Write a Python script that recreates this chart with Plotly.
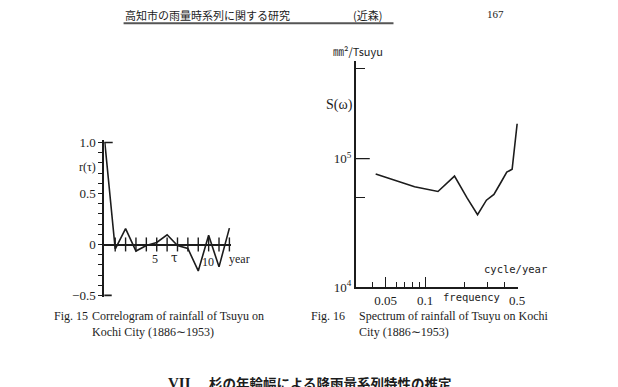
import plotly.graph_objects as go

W, H = 618, 387
def px(x): return x / W
def py(y): return 1 - y / H

# ---- data: Fig.15 correlogram ----
lags = [0, 1, 2, 3, 4, 5, 6, 7, 8, 9, 10, 11, 12]
r_tau = [1.0, -0.045, 0.155, -0.065, -0.01, 0.02, 0.095, -0.01, -0.04, -0.26, 0.09, -0.22, 0.16]
tick_lags = [1, 2, 3, 4, 5, 6, 7, 8, 9, 10, 11, 12]
r_tickvals = [-0.5, -0.4, -0.3, -0.2, -0.1, 0.0, 0.1, 0.2, 0.3, 0.4, 0.5, 0.6, 0.7, 0.8, 0.9, 1.0]
r_ticktext = ["\u22120.5", " ", " ", " ", " ", "0", " ", " ", " ", " ", "0.5", " ", " ", " ", " ", "1.0"]

# ---- data: Fig.16 spectrum ----
freq = [0.042, 0.083, 0.125, 0.167, 0.208, 0.25, 0.292, 0.333, 0.375, 0.417, 0.458, 0.5]
spec = [75900, 60500, 55500, 73200, 49500, 36600, 47500, 52700, 64900, 78500, 82600, 186700]
f_major = [0.05, 0.1, 0.5]
f_major_text = ["0.05", "0.1", "0.5"]
f_minor = [0.04, 0.06, 0.07, 0.08, 0.09, 0.2, 0.3, 0.4]
s_tickvals = [1e4, 5e4, 1e5, 5e5]
s_ticktext = ["10<sup>4</sup>", " ", "10<sup>5</sup>", " "]

INK = "#1c1c1c"
SERIF = "Liberation Serif"

fig = go.Figure()
fig.add_trace(go.Scatter(x=lags, y=r_tau, mode="lines", line=dict(color=INK, width=1.6),
                         cliponaxis=False, xaxis="x", yaxis="y", showlegend=False))
fig.add_trace(go.Scatter(x=tick_lags, y=[0] * len(tick_lags), mode="markers",
                         marker=dict(symbol="line-ns", size=10, line=dict(color=INK, width=1.4)),
                         cliponaxis=False, xaxis="x", yaxis="y", showlegend=False))
fig.add_trace(go.Scatter(x=freq, y=spec, mode="lines", line=dict(color=INK, width=1.6),
                         cliponaxis=False, xaxis="x2", yaxis="y2", showlegend=False))

ann = []
def T(x, y, text, size=12, family=SERIF, xanchor="center", yanchor="middle", **kw):
    ann.append(dict(x=px(x), y=py(y), xref="paper", yref="paper", text=text, showarrow=False,
                    xanchor=xanchor, yanchor=yanchor, font=dict(size=size, family=family, color=INK), **kw))

# header
T(210, 10, "高知市の雨量時系列に関する研究", size=11, family="Noto Sans CJK JP")
T(372, 10, "(近森)", size=11, family="Noto Sans CJK JP")
T(501, 9, "167", size=11)
# left chart labels
T(89, 168, "r(τ)", size=12)
T(157, 263, "5", size=12)
T(176, 262, "τ", size=12, family="DejaVu Serif")
T(210, 266, "10", size=12)
T(242, 263, "year", size=12)
# right chart labels
T(362, 48, "㎜²/Tsuyu", size=11, family="Noto Sans CJK JP")
T(343, 103, "S(ω)", size=14)
T(521, 273, "cycle/year", size=10.5, family="DejaVu Sans Mono")
T(477, 302, "frequency", size=10.5, family="DejaVu Sans Mono")
# captions
T(53, 322, "Fig. 15", size=12, xanchor="left")
T(91, 322, "Correlogram of rainfall of Tsuyu on", size=12, xanchor="left")
T(91, 338, "Kochi City (1886∼1953)", size=12, xanchor="left")
T(313, 322, "Fig. 16", size=12, xanchor="left")
T(361, 322, "Spectrum of rainfall of Tsuyu on Kochi", size=12, xanchor="left")
T(361, 338, "City (1886∼1953)", size=12, xanchor="left")
# bottom section title (cut off at page edge)
T(168, 381, "<b>VII</b>", size=15, family="Liberation Serif", xanchor="left", yanchor="top")
T(209, 379, "<b>杉の年輪幅による降雨量系列特性の推定</b>", size=13.5,
  family="Noto Sans CJK JP", xanchor="left", yanchor="top")

shapes = [
    dict(type="line", xref="paper", yref="paper", x0=px(125), x1=px(398), y0=py(19), y1=py(19),
         line=dict(color="#555", width=2)),
    dict(type="line", xref="paper", yref="y", x0=px(105.5), x1=px(114), y0=1.0, y1=1.0,
         line=dict(color=INK, width=1.6)),
    dict(type="line", xref="paper", yref="y", x0=px(105.5), x1=px(113), y0=-0.5, y1=-0.5,
         line=dict(color=INK, width=1.6)),
    dict(type="line", xref="paper", yref="y2", x0=px(360), x1=px(374), y0=1e5, y1=1e5,
         line=dict(color=INK, width=1.4)),
]

fig.update_layout(
    width=W, height=H, margin=dict(l=0, r=0, t=0, b=0),
    paper_bgcolor="white", plot_bgcolor="rgba(0,0,0,0)",
    annotations=ann, shapes=shapes, showlegend=False,
    xaxis=dict(domain=[px(105.5), px(233.6)], range=[-0.05, 12.15], anchor="free", position=py(248.3),
               showline=True, linecolor=INK, linewidth=1.5, ticks="", showticklabels=False,
               showgrid=False, zeroline=False),
    yaxis=dict(domain=[py(302.6), py(140.2)], range=[-0.52, 1.02], anchor="x",
               showline=True, linecolor=INK, linewidth=2, ticks="outside", ticklen=4, tickwidth=1.2,
               tickcolor=INK, tickvals=r_tickvals, ticktext=r_ticktext, showgrid=False, zeroline=False,
               tickfont=dict(family=SERIF, size=13, color=INK)),
    xaxis2=dict(type="log", domain=[px(360), px(524)], range=[-1.527, -0.294], anchor="y2",
                showline=True, linecolor=INK, linewidth=2, ticks="inside", ticklen=10, tickwidth=1.3,
                tickcolor=INK, tickvals=f_major, ticktext=f_major_text, showgrid=False, zeroline=False,
                tickfont=dict(family=SERIF, size=13, color=INK),
                minor=dict(tickmode="array", tickvals=f_minor, ticks="inside", ticklen=5,
                           tickwidth=1.2, tickcolor=INK, showgrid=False)),
    yaxis2=dict(type="log", domain=[py(292), py(58)], range=[4, 5.759], anchor="x2",
                showline=True, linecolor=INK, linewidth=2, ticks="inside", ticklen=9, tickwidth=1.4,
                tickcolor=INK, tickvals=s_tickvals, ticktext=s_ticktext, showgrid=False, zeroline=False,
                tickfont=dict(family=SERIF, size=13, color=INK)),
)

fig.write_html("out.html")
